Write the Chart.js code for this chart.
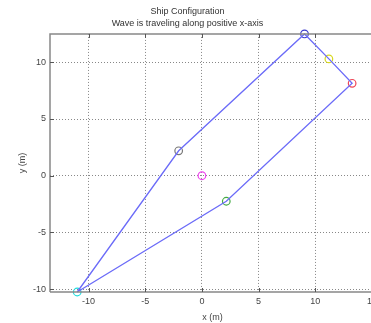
<!DOCTYPE html>
<html>
<head>
<meta charset="utf-8">
<script src="https://cdn.jsdelivr.net/npm/chart.js@4"></script>
<style>
  html, body { margin: 0; padding: 0; background: #fff; overflow: hidden; }
  #wrap { width: 380px; height: 323px; }
</style>
</head>
<body>
<div id="wrap"><canvas id="grafico"></canvas></div>
<script>
// hull outline, vertices in drawing order (closed)
const hullX = [-11, -2.05, 9.05, 11.2, 13.25, 2.15, -11];
const hullY = [-10.25, 2.2, 12.5, 10.3, 8.15, -2.25, -10.25];

// marked points
const markNames = ['cyan', 'gray', 'blue', 'yellow', 'red', 'green', 'magenta'];
const markX = [-11, -2.05, 9.05, 11.2, 13.25, 2.15, 0];
const markY = [-10.25, 2.2, 12.5, 10.3, 8.15, -2.25, 0];
const markColors = ['#22dddd', '#777777', '#3a3acc', '#d8d820', '#ee4455', '#44aa44', '#ee44ee'];

const xTicks = [-10, -5, 0, 5, 10, 15];
const yTicks = [-10, -5, 0, 5, 10];

const corFonte = '#444';
const fonte = { family: 'Liberation Sans, Arial, sans-serif', size: 9 };

const datasets = [{
  label: 'hull',
  data: hullX.map((x, i) => ({ x: x, y: hullY[i] })),
  showLine: true,
  borderColor: '#6b6bf8',
  borderWidth: 1.3,
  pointRadius: 0,
  fill: false,
  clip: false
}];
markX.forEach((x, i) => {
  datasets.push({
    label: markNames[i],
    data: [{ x: x, y: markY[i] }],
    pointRadius: 3.8,
    pointBorderWidth: 1.2,
    pointBorderColor: markColors[i],
    pointBackgroundColor: 'rgba(0,0,0,0)',
    clip: false
  });
});

// box + inward ticks like the original
const moldura = {
  id: 'moldura',
  afterDatasetsDraw(chart) {
    const { ctx, chartArea: a, scales } = chart;
    ctx.save();
    ctx.strokeStyle = '#888';
    ctx.lineWidth = 1.5;
    ctx.beginPath();
    ctx.moveTo(a.left, a.bottom);
    ctx.lineTo(a.left, a.top);
    ctx.lineTo(a.right, a.top);
    ctx.moveTo(a.left, a.bottom);
    ctx.lineTo(a.right, a.bottom);
    ctx.stroke();
    ctx.strokeStyle = '#555';
    ctx.lineWidth = 1;
    ctx.beginPath();
    xTicks.forEach(v => {
      const px = Math.round(scales.x.getPixelForValue(v)) + 0.5;
      ctx.moveTo(px, a.bottom); ctx.lineTo(px, a.bottom - 4);
      ctx.moveTo(px, a.top); ctx.lineTo(px, a.top + 4);
    });
    yTicks.forEach(v => {
      const py = Math.round(scales.y.getPixelForValue(v)) + 0.5;
      ctx.moveTo(a.left, py); ctx.lineTo(a.left + 4, py);
    });
    ctx.stroke();
    ctx.restore();
  }
};

new Chart(document.getElementById('grafico'), {
  type: 'scatter',
  data: { datasets: datasets },
  options: {
    responsive: true,
    maintainAspectRatio: false,
    animation: false,
    layout: { padding: { left: 0, right: 5, top: 0, bottom: 0 } },
    plugins: {
      legend: { display: false },
      tooltip: { enabled: false },
      title: {
        display: true,
        text: ['Ship Configuration', 'Wave is traveling along positive x-axis'],
        color: '#333',
        font: { family: fonte.family, size: 9, weight: 'normal', lineHeight: 1.33 },
        padding: { top: 6, bottom: 4 }
      }
    },
    scales: {
      x: {
        type: 'linear',
        min: -13.4,
        max: 15.25,
        afterBuildTicks: s => { s.ticks = xTicks.map(v => ({ value: v })); },
        afterFit: s => { s.height = 31; s.paddingLeft = 0; s.paddingRight = 0; },
        ticks: { color: corFonte, font: fonte, padding: 4, maxRotation: 0 },
        grid: { color: '#888', drawTicks: false, lineWidth: 1 },
        border: { display: false, dash: [1, 2] },
        title: { display: true, text: 'x (m)', color: corFonte, font: fonte, padding: { top: 2, bottom: 0 } }
      },
      y: {
        type: 'linear',
        min: -10.25,
        max: 12.5,
        afterBuildTicks: s => { s.ticks = yTicks.map(v => ({ value: v })); },
        afterFit: s => { s.width = 50; s.paddingTop = 0; s.paddingBottom = 0; },
        ticks: { color: corFonte, font: fonte, padding: 4 },
        grid: { color: '#888', drawTicks: false, lineWidth: 1 },
        border: { display: false, dash: [1, 2] },
        title: { display: true, text: 'y (m)', color: corFonte, font: fonte, padding: { top: 17, bottom: 0 } }
      }
    }
  },
  plugins: [moldura]
});
</script>
</body>
</html>
